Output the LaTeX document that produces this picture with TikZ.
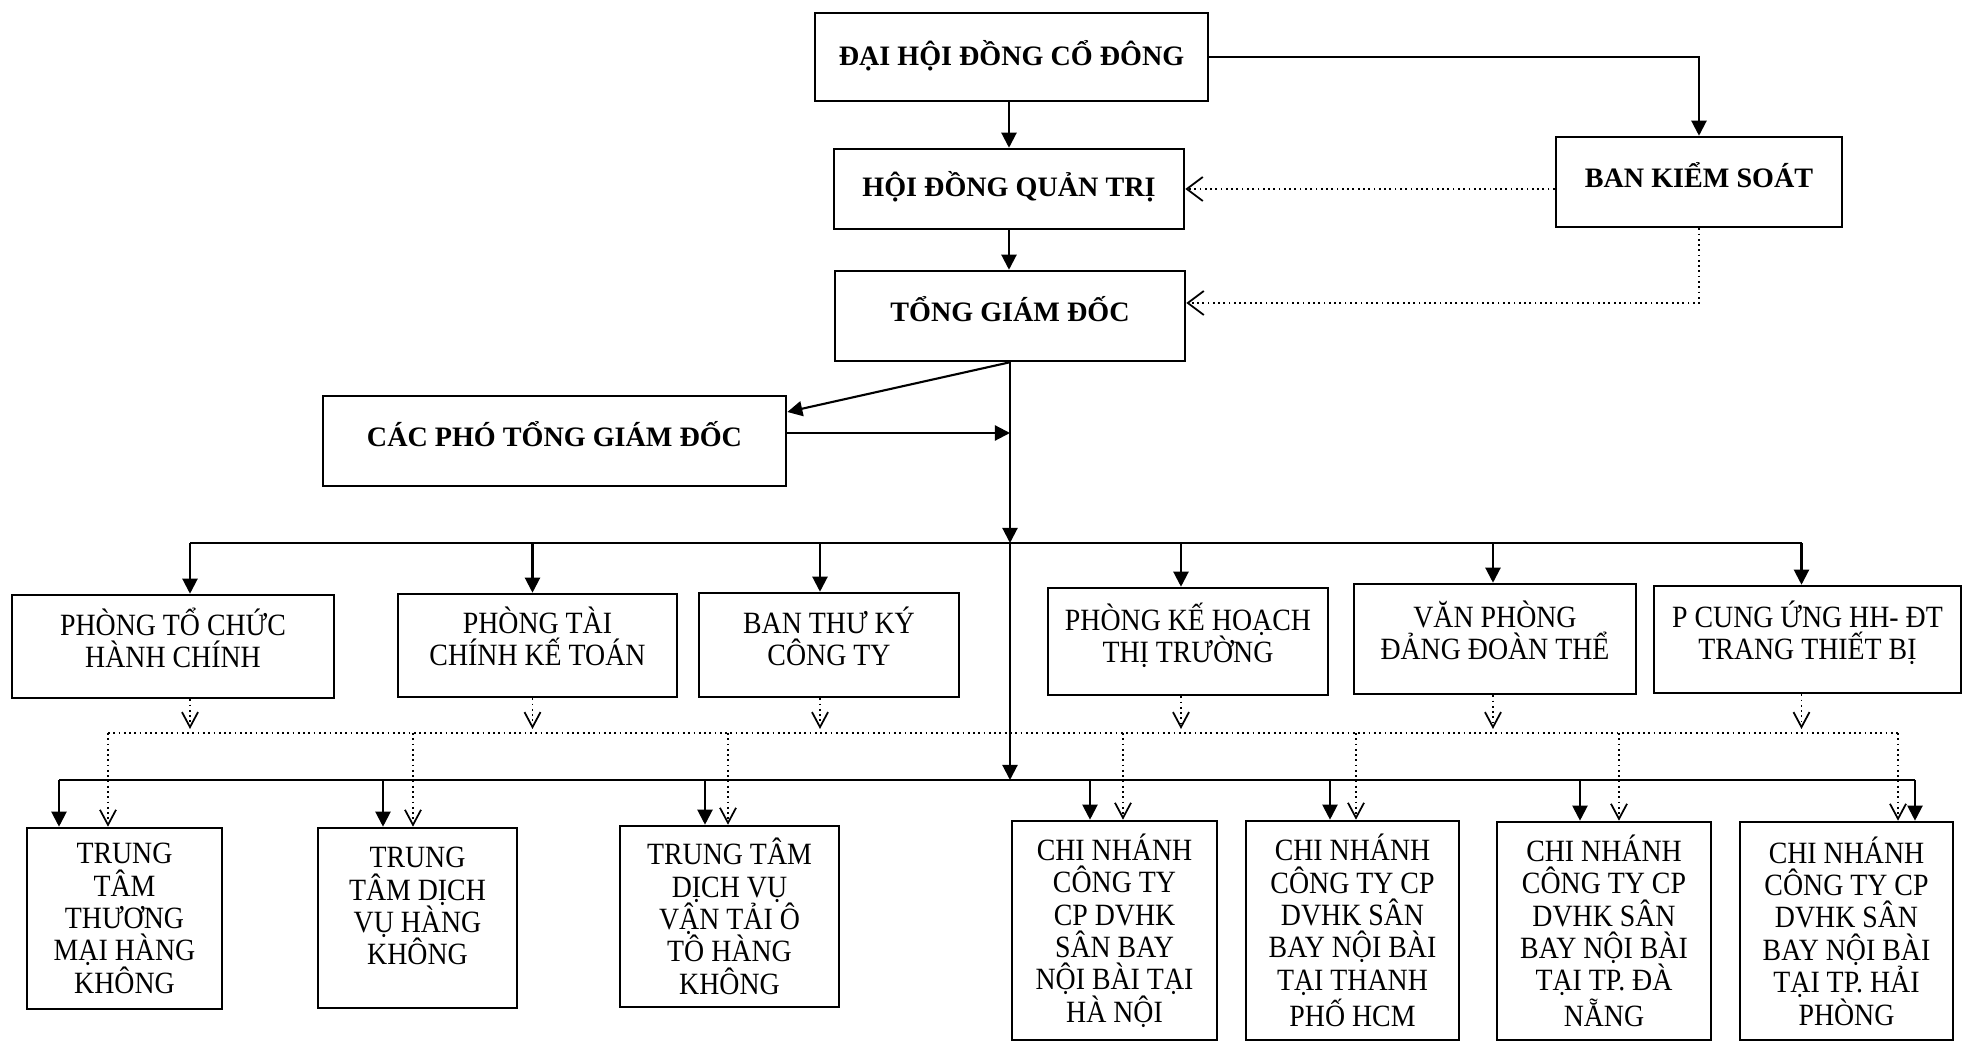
\documentclass[tikz,border=0pt]{standalone}
\usepackage{fontspec}
\setmainfont{Liberation Serif}[FakeStretch=0.9]
\newfontfamily\headfont{Liberation Serif}
\usetikzlibrary{positioning,arrows.meta,calc}

\begin{document}
\begin{tikzpicture}[x=0.01cm, y=-0.01cm,
	unit/.style={draw, line width=0.7pt, inner sep=2pt, align=center, font=\fontsize{8.8}{9.2}\selectfont},
	rowunit/.style={unit, text depth=0.18cm},
	topunit/.style={unit, text depth=0.14cm, font=\headfont\bfseries\fontsize{8}{9.6}\selectfont},
	solidline/.style={line width=0.6pt},
	link/.style={solidline, -{Triangle[length=1.5mm,width=1.5mm]}},
	dotline/.style={line width=0.5pt, densely dotted},
	dotlink/.style={dotline, -{Straight Barb[length=1.5mm,width=1.6mm]}},
	bigdotlink/.style={dotline, -{Straight Barb[length=1.6mm,width=2.4mm]}}]
\useasboundingbox (0,0) rectangle (1965,1043);

\node[topunit, text depth=0.08cm, minimum width=3.93cm, minimum height=0.88cm] (dhdcd) at (1011.5,57) {ĐẠI HỘI ĐỒNG CỔ ĐÔNG};
\node[topunit, text depth=0.11cm, minimum width=3.5cm, minimum height=0.8cm] (hdqt) at (1009,189) {HỘI ĐỒNG QUẢN TRỊ};
\node[topunit, minimum width=2.86cm, minimum height=0.9cm] (bks) at (1699,182) {BAN KIỂM SOÁT};
\node[topunit, minimum width=3.5cm, minimum height=0.9cm] (tgd) at (1010,316) {TỔNG GIÁM ĐỐC};
\node[topunit, minimum width=4.63cm, minimum height=0.9cm] (cptgd) at (554.5,441) {CÁC PHÓ TỔNG GIÁM ĐỐC};

\node[rowunit, minimum width=3.22cm, minimum height=1.03cm] (ptchc) at (173,646.5) {PHÒNG TỔ CHỨC\\HÀNH CHÍNH};
\node[rowunit, minimum width=2.79cm, minimum height=1.03cm] (ptckt) at (537.5,645.5) {PHÒNG TÀI\\CHÍNH KẾ TOÁN};
\node[rowunit, minimum width=2.6cm, minimum height=1.04cm] (btk) at (829,645) {BAN THƯ KÝ\\CÔNG TY};
\node[rowunit, minimum width=2.8cm, minimum height=1.07cm] (pkh) at (1188,641.5) {PHÒNG KẾ HOẠCH\\THỊ TRƯỜNG};
\node[rowunit, minimum width=2.82cm, minimum height=1.1cm] (vp) at (1495,639) {VĂN PHÒNG\\ĐẢNG ĐOÀN THỂ};
\node[rowunit, minimum width=3.07cm, minimum height=1.07cm] (pcu) at (1807.5,639.5) {P CUNG ỨNG HH- ĐT\\TRANG THIẾT BỊ};

\node[unit, minimum width=1.95cm, minimum height=1.81cm] (tttm) at (124.5,918.5) {TRUNG\\TÂM\\THƯƠNG\\MẠI HÀNG\\KHÔNG};
\node[unit, text depth=0.24cm, minimum width=1.99cm, minimum height=1.8cm] (ttdv) at (417.5,918) {TRUNG\\TÂM DỊCH\\VỤ HÀNG\\KHÔNG};
\node[unit, minimum width=2.19cm, minimum height=1.81cm] (ttvt) at (729.5,916.5) {TRUNG TÂM\\DỊCH VỤ\\VẬN TẢI Ô\\TÔ HÀNG\\KHÔNG};
\node[unit, minimum width=2.05cm, minimum height=2.19cm] (cnhn) at (1114.5,930.5) {CHI NHÁNH\\CÔNG TY\\CP DVHK\\SÂN BAY\\NỘI BÀI TẠI\\HÀ NỘI};
\node[unit, minimum width=2.13cm, minimum height=2.19cm] (cnhcm) at (1352.5,930.5) {CHI NHÁNH\\CÔNG TY CP\\DVHK SÂN\\BAY NỘI BÀI\\TẠI THANH\\PHỐ HCM};
\node[unit, minimum width=2.14cm, minimum height=2.18cm] (cndn) at (1604,931) {CHI NHÁNH\\CÔNG TY CP\\DVHK SÂN\\BAY NỘI BÀI\\TẠI TP. ĐÀ\\NẴNG};
\node[unit, minimum width=2.13cm, minimum height=2.18cm] (cnhp) at (1846.5,931) {CHI NHÁNH\\CÔNG TY CP\\DVHK SÂN\\BAY NỘI BÀI\\TẠI TP. HẢI\\PHÒNG};

\coordinate (ubus) at (0,543);
\coordinate (dbus) at (0,733);
\coordinate (lbus) at (0,780);

\draw[link] (hdqt.north |- dhdcd.south) -- (hdqt.north);
\draw[link] (dhdcd.east) -| (bks.north);
\draw[link] (hdqt.south) -- (hdqt.south |- tgd.north);
\draw[bigdotlink] (bks.west |- hdqt.east) -- (hdqt.east);
\draw[bigdotlink] (bks.south) |- ($(tgd.east)+(0,-13)$);
\draw[link] (tgd.south) -- ($(cptgd.east)+(0,-29)$);
\draw[link] ($(cptgd.east)+(0,-8)$) -- ($(cptgd.east -| tgd.south)+(0,-8)$);

\draw[link] (tgd.south) -- (tgd.south |- ubus);
\draw[link] (tgd.south |- ubus) -- (tgd.south |- lbus);
\draw[solidline] ($(ptchc.north |- ubus)+(17,0)$) -- ($(pcu.north |- ubus)+(-6,0)$);
\foreach \b/\s in {ptchc/17, ptckt/-5, btk/-9, pkh/-7, vp/-2, pcu/-6}{
	\draw[link] ($(\b.north |- ubus)+(\s,0)$) -- ($(\b.north)+(\s,0)$);
	\draw[dotlink] ($(\b.south)+(\s,0)$) -- ($(\b.south |- dbus)+(\s,-4)$);
}

\draw[dotline] ($(tttm.north |- dbus)+(-16.5,0)$) -- ($(cnhp.north |- dbus)+(51.5,0)$);
\draw[solidline] ($(tttm.north |- lbus)+(-65.5,0)$) -- ($(cnhp.north |- lbus)+(68.5,0)$);
\foreach \b/\s/\d in {tttm/-65.5/-16.5, ttdv/-34.5/-4.5, ttvt/-24.5/-1.5, cnhn/-24.5/8.5, cnhcm/-22.5/3.5, cndn/-24/15, cnhp/68.5/51.5}{
	\draw[link] ($(\b.north |- lbus)+(\s,0)$) -- ($(\b.north)+(\s,0)$);
	\draw[dotlink] ($(\b.north |- dbus)+(\d,0)$) -- ($(\b.north)+(\d,0)$);
}
\end{tikzpicture}
\end{document}
